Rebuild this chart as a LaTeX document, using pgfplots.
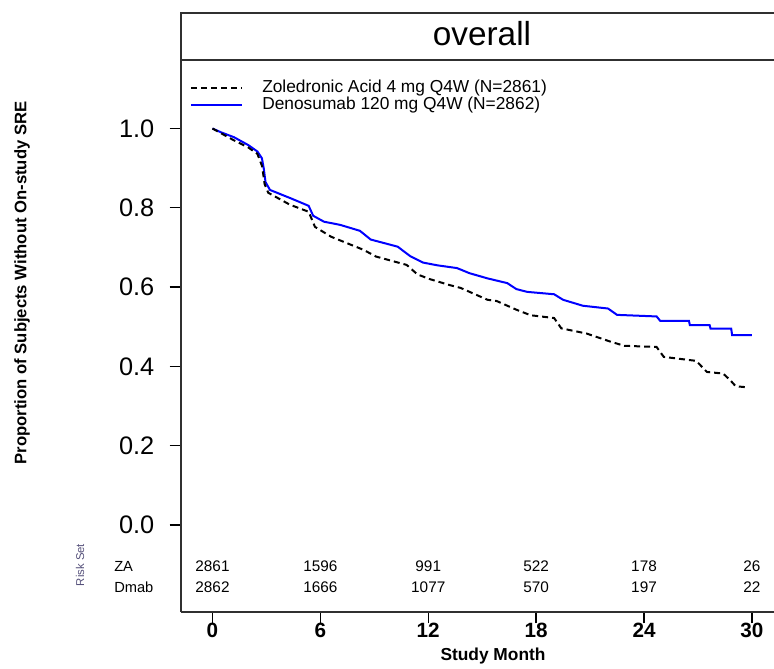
\documentclass[border=0pt]{standalone}
\usepackage{pgfplots}
\pgfplotsset{compat=1.18}
\usepackage{fontspec}
\setmainfont{Liberation Sans}
\definecolor{dmabblue}{HTML}{0000FF}
\definecolor{frame}{HTML}{303030}
\definecolor{riskcol}{HTML}{55507A}

\begin{document}
\begin{tikzpicture}
\useasboundingbox (0,0) rectangle (580.5pt,501pt);
\begin{axis}[
  at={(135.75pt,42pt)}, anchor=south west,
  scale only axis, width=444.75pt, height=414pt,
  xmin=-1.75, xmax=31.23, ymin=-0.2194, ymax=1.1728,
  axis x line=bottom, axis y line=left,
  axis line style={-, line width=1.6pt, draw=frame},
  tick align=outside, major tick length=8.5pt,
  tick style={line width=1pt, draw=black},
  xtick={0,6,...,30}, ytick={0,0.2,...,1.0},
  y tick label style={/pgf/number format/fixed, /pgf/number format/fixed zerofill, /pgf/number format/precision=1},
  /pgf/number format/assume math mode=true,
  yticklabel style={font=\fontsize{19}{23}\selectfont, xshift=-8pt},
  xticklabel style={font=\fontsize{15.5}{19}\selectfont\bfseries, yshift=4pt},
  clip=false,
]
\addplot[dmabblue, line width=1.5pt] coordinates {
(0,1.0) (0.5,0.99) (1.2,0.978) (2.0,0.958) (2.5,0.942) (2.75,0.925) (2.85,0.90)
(2.95,0.865) (3.2,0.845) (4.3,0.825) (5.35,0.805) (5.6,0.78) (6.2,0.765) (7.1,0.757)
(8.2,0.742) (8.8,0.72) (10.3,0.702) (11.0,0.678) (11.7,0.662) (12.5,0.655) (13.6,0.648)
(14.3,0.635) (15.3,0.622) (16.4,0.61) (16.9,0.595) (17.5,0.588) (19.0,0.582) (19.5,0.568)
(20.6,0.553) (22.0,0.546) (22.5,0.53) (24.7,0.526) (24.9,0.515) (26.5,0.515) (26.55,0.504)
(27.65,0.504) (27.7,0.495) (28.85,0.495) (28.9,0.479) (30.0,0.479)};
\addplot[black, line width=1.5pt, dash pattern=on 4.5pt off 3pt] coordinates {
(0,1.0) (1.2,0.970) (2.0,0.952) (2.5,0.936) (2.76,0.905) (2.9,0.86) (3.1,0.838)
(4.3,0.808) (5.35,0.79) (5.7,0.752) (6.6,0.727) (8.4,0.694) (9.1,0.677) (10.8,0.656)
(11.4,0.632) (12.1,0.620) (13.2,0.605) (13.8,0.598) (15.3,0.568) (15.8,0.565)
(16.9,0.543) (17.7,0.529) (19.0,0.522) (19.4,0.496) (20.8,0.483) (22.1,0.463)
(22.9,0.452) (24.7,0.449) (25.1,0.424) (26.9,0.414) (27.5,0.386) (28.4,0.382)
(28.8,0.365) (29.1,0.35) (29.8,0.347)};
\end{axis}
% annotations laid out in reference pixels: 1px = 0.75pt, y pointing down
\begin{scope}[x=0.75pt, y=-0.75pt, yshift=501pt]
% title strip
\draw[line width=1.6pt, draw=frame] (181,60) -- (181,13) -- (776,13);
\draw[line width=1.6pt, draw=frame] (181,60) -- (776,60);
\node[font=\fontsize{25}{30}\selectfont] at (482,34) {overall};
% legend
\draw[black, line width=1.2pt, dash pattern=on 4.5pt off 3pt] (191,88) -- (242,88);
\draw[dmabblue, line width=1.2pt] (191,105) -- (242,105);
\node[anchor=west, inner sep=0pt, font=\fontsize{13}{15}\selectfont] at (262,88) {Zoledronic Acid 4 mg Q4W (N=2861)};
\node[anchor=west, inner sep=0pt, font=\fontsize{13}{15}\selectfont] at (262,105) {Denosumab 120 mg Q4W (N=2862)};
% y label
\node[rotate=90, font=\fontsize{12.5}{14}\selectfont\bfseries] at (22,283) {Proportion of Subjects Without On-study SRE};
% risk set table
\node[rotate=90, text=riskcol, font=\fontsize{8.5}{10}\selectfont] at (80,565) {Risk Set};
\node[anchor=west, inner sep=0pt, font=\fontsize{11}{13}\selectfont] at (114,566) {ZA};
\node[anchor=west, inner sep=0pt, font=\fontsize{11}{13}\selectfont] at (114,587) {Dmab};
\foreach \m/\za/\dm in {0/2861/2862, 6/1596/1666, 12/991/1077, 18/522/570, 24/178/197, 30/26/22}{
  \node[font=\fontsize{11.5}{13}\selectfont] at ({212.5+17.98*\m},566) {\za};
  \node[font=\fontsize{11.5}{13}\selectfont] at ({212.5+17.98*\m},587) {\dm};
}
% x label
\node[font=\fontsize{13}{16}\selectfont\bfseries] at (493,656) {Study Month};
\end{scope}
\end{tikzpicture}
\end{document}
